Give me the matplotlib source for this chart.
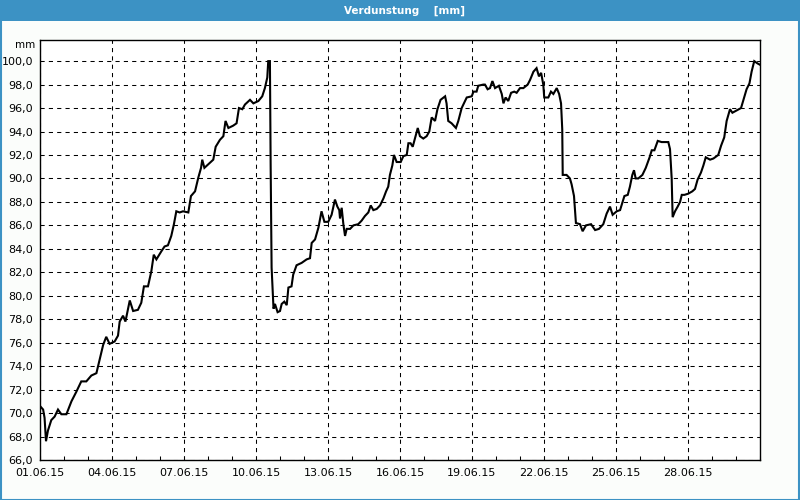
import matplotlib
matplotlib.use("Agg")
import matplotlib.pyplot as plt
import matplotlib.dates as mdates
from matplotlib.patches import Rectangle
from matplotlib.ticker import FuncFormatter
import pandas as pd

# time in days since 01.06.2015 00:00
days = [0.00, 0.13, 0.19, 0.25, 0.33, 0.47, 0.61, 0.75, 0.89, 1.10, 1.31, 1.51, 1.72, 1.93,
        2.14, 2.35, 2.49, 2.63, 2.76, 2.90, 3.11, 3.25, 3.32, 3.46, 3.56, 3.67, 3.74, 3.88,
        4.08, 4.22, 4.33, 4.50, 4.64, 4.74, 4.85, 5.06, 5.19, 5.33, 5.47, 5.58, 5.68, 5.82,
        5.96, 6.18, 6.29, 6.46, 6.60, 6.71, 6.76, 6.85, 7.01, 7.22, 7.32, 7.50, 7.64, 7.73,
        7.85, 8.05, 8.19, 8.29, 8.43, 8.54, 8.75, 8.89, 9.10, 9.26, 9.37, 9.47, 9.51, 9.58,
        9.61, 9.65, 9.69, 9.73, 9.79, 9.90, 10.00, 10.07, 10.18, 10.28, 10.35, 10.48, 10.55,
        10.69, 10.90, 11.11, 11.25, 11.32, 11.46, 11.60, 11.73, 11.85, 12.01, 12.15, 12.29,
        12.39, 12.47, 12.50, 12.57, 12.64, 12.71, 12.78, 12.92, 13.06, 13.26, 13.40, 13.54,
        13.68, 13.78, 13.89, 14.03, 14.17, 14.31, 14.42, 14.51, 14.58, 14.68, 14.75, 14.86,
        15.03, 15.14, 15.28, 15.35, 15.44, 15.53, 15.62, 15.74, 15.83, 15.97, 16.11, 16.22,
        16.32, 16.46, 16.56, 16.69, 16.88, 16.94, 17.01, 17.15, 17.33, 17.43, 17.57, 17.78,
        17.99, 18.06, 18.19, 18.26, 18.47, 18.54, 18.65, 18.75, 18.85, 18.96, 19.12, 19.24,
        19.31, 19.40, 19.51, 19.63, 19.76, 19.86, 20.00, 20.14, 20.32, 20.42, 20.56, 20.69,
        20.79, 20.88, 20.97, 21.01, 21.18, 21.29, 21.39, 21.53, 21.63, 21.71, 21.76, 21.78,
        21.94, 22.08, 22.15, 22.25, 22.33, 22.50, 22.61, 22.75, 22.96, 23.13, 23.29, 23.47,
        23.61, 23.75, 23.86, 24.03, 24.17, 24.26, 24.35, 24.49, 24.58, 24.68, 24.75, 24.82,
        24.93, 25.10, 25.24, 25.40, 25.49, 25.60, 25.74, 25.90, 26.04, 26.18, 26.25, 26.32,
        26.36, 26.46, 26.57, 26.67, 26.74, 26.85, 27.01, 27.18, 27.29, 27.40, 27.54, 27.64,
        27.74, 27.92, 28.06, 28.26, 28.38, 28.51, 28.61, 28.75, 28.85, 29.03, 29.21, 29.31,
        29.44, 29.56, 29.65, 29.76, 29.90, 29.99]

verdunstung = [70.6, 70.3, 69.6, 67.6, 68.5, 69.4, 69.7, 70.3, 69.9, 69.9, 71.0, 71.8, 72.7, 72.7,
               73.2, 73.4, 74.6, 75.8, 76.5, 75.9, 76.1, 76.6, 77.8, 78.3, 77.8, 78.9, 79.6, 78.7,
               78.8, 79.4, 80.8, 80.8, 82.1, 83.5, 83.1, 83.8, 84.2, 84.3, 85.1, 86.1, 87.2, 87.1,
               87.2, 87.1, 88.5, 88.9, 90.1, 90.9, 91.6, 90.9, 91.2, 91.6, 92.7, 93.3, 93.6, 94.9,
               94.3, 94.5, 94.7, 96.0, 95.9, 96.3, 96.7, 96.4, 96.6, 97.0, 97.7, 98.6, 100.0, 100.0,
               91.2, 82.4, 80.7, 78.9, 79.3, 78.6, 78.7, 79.3, 79.5, 79.2, 80.7, 80.8, 81.8,
               82.6, 82.8, 83.1, 83.2, 84.5, 84.8, 85.8, 87.2, 86.3, 86.3, 86.9, 88.2,
               87.6, 87.3, 86.6, 87.5, 86.1, 85.1, 85.7, 85.7, 86.0, 86.1, 86.4, 86.8,
               87.1, 87.7, 87.3, 87.4, 87.7, 88.3, 88.9, 89.3, 90.3, 91.1, 92.0, 91.4,
               91.4, 91.9, 92.0, 93.0, 93.0, 92.7, 93.4, 94.3, 93.6, 93.4, 93.6, 94.0,
               95.2, 94.9, 95.9, 96.7, 97.0, 96.4, 94.9, 94.7, 94.3, 94.9, 96.0, 96.9,
               97.0, 97.4, 97.4, 97.9, 98.0, 98.0, 97.6, 97.7, 98.3, 97.7, 97.9, 97.2,
               96.4, 96.9, 96.6, 97.3, 97.4, 97.3, 97.7, 97.7, 98.0, 98.4, 99.1, 99.4,
               98.7, 99.0, 98.0, 96.9, 96.9, 97.4, 97.2, 97.7, 97.2, 96.4, 94.2, 90.3,
               90.3, 90.0, 89.5, 88.5, 86.2, 86.1, 85.5, 86.0, 86.1, 85.6, 85.7, 86.1,
               87.0, 87.6, 86.9, 87.2, 87.3, 87.9, 88.5, 88.6, 89.3, 90.3, 90.7, 90.0,
               90.0, 90.3, 90.9, 91.8, 92.4, 92.4, 93.2, 93.1, 93.1, 93.1, 92.5, 90.0,
               86.7, 87.2, 87.6, 88.0, 88.6, 88.6, 88.7, 88.9, 89.1, 89.9, 90.5, 91.1,
               91.8, 91.6, 91.7, 92.0, 92.8, 93.5, 94.9, 95.9, 95.6, 95.8, 96.0, 96.7,
               97.6, 98.1, 99.1, 100.0, 99.8, 99.7]

start = pd.Timestamp("2015-06-01")
times = start + pd.to_timedelta(days, unit="D")
xticks = pd.date_range(start, periods=10, freq="3D")
yticks = list(range(66, 101, 2))

blue = "#3c92c4"
bg = "#fbfdfb"

fig = plt.figure(figsize=(8, 5), dpi=100, facecolor=bg)

# window frame and title bar
fig.patches.append(Rectangle((0, 0.959), 1, 0.041, transform=fig.transFigure,
                             facecolor=blue, edgecolor="none", zorder=0))
fig.patches.append(Rectangle((0.001, 0.001), 0.998, 0.998, transform=fig.transFigure,
                             facecolor="none", edgecolor=blue, lw=1.5, zorder=0))
fig.text(0.505, 0.979, "Verdunstung    [mm]", color="white", fontsize=7.5,
         fontweight="bold", ha="center", va="center")

ax = fig.add_axes([0.05, 0.08, 0.90, 0.84])
ax.set_facecolor("white")
ax.plot(times, verdunstung, color="black", lw=1.5, solid_joinstyle="miter")

ax.set_xlim(start, start + pd.Timedelta(days=30))
ax.set_ylim(66, 101.8)
ax.set_yticks(yticks)
ax.yaxis.set_major_formatter(FuncFormatter(lambda v, p: f"{v:.1f}".replace(".", ",")))
ax.set_xticks(xticks)
ax.xaxis.set_major_formatter(mdates.DateFormatter("%d.%m.%y"))
ax.xaxis.set_minor_locator(mdates.DayLocator())

ax.grid(True, which="major", color="black", lw=0.75, linestyle=(0, (4, 4)))
ax.tick_params(axis="y", length=0, labelsize=8, pad=5)
ax.tick_params(axis="x", which="both", direction="in", length=3, width=0.75,
               labelsize=8, pad=6)
for s in ax.spines.values():
    s.set_linewidth(1.0)

ax.text(-0.007, 1.0, "mm", transform=ax.transAxes, fontsize=7.5,
        ha="right", va="top")

fig.savefig("out.png", dpi=100, facecolor=bg)
